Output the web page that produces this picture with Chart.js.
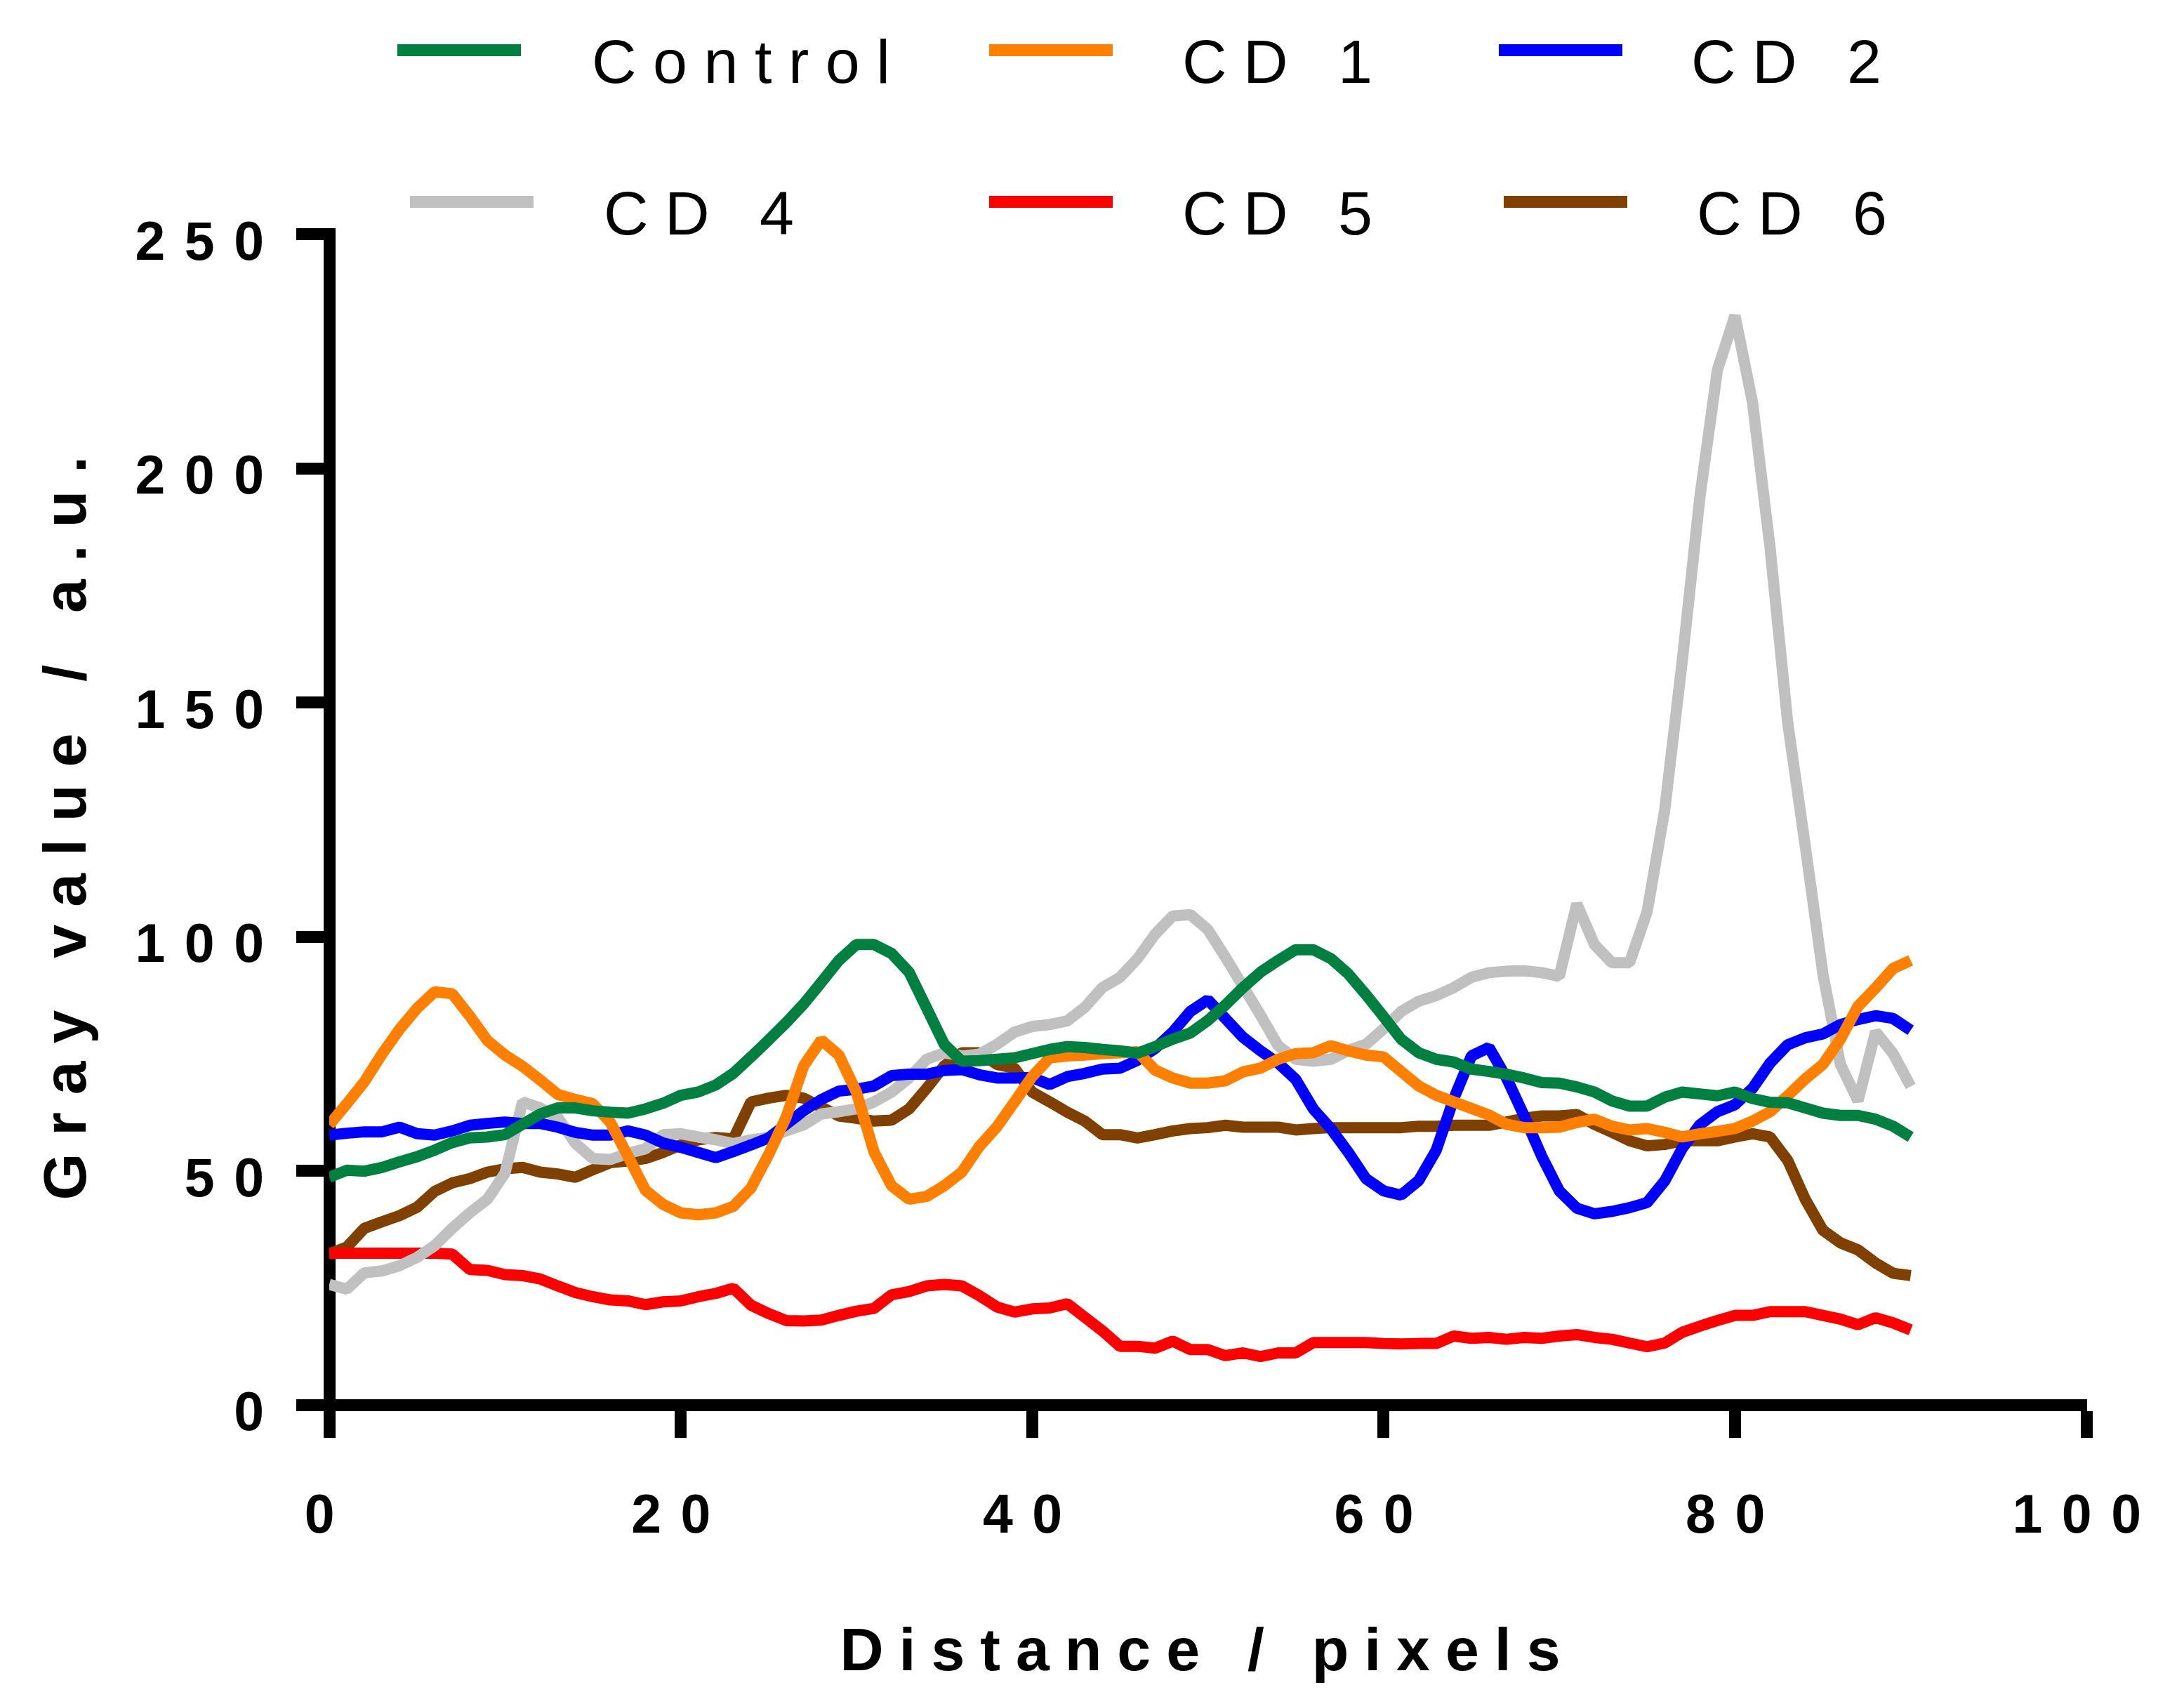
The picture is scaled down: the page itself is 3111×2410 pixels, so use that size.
<!DOCTYPE html>
<html><head><meta charset="utf-8">
<script src="https://cdn.jsdelivr.net/npm/chart.js@4.4.1/dist/chart.umd.min.js"></script>
<style>html,body{margin:0;padding:0;background:#fff}#wrap{width:3111px;height:2410px;position:relative}</style>
</head><body><div id="wrap"><canvas id="c"></canvas></div>
<script>
const distance = [0,1,2,3,4,5,6,7,8,9,10,11,12,13,14,15,16,17,18,19,20,21,22,23,24,25,26,27,28,29,30,31,32,33,34,35,36,37,38,39,40,41,42,43,44,45,46,47,48,49,50,51,52,53,54,55,56,57,58,59,60,61,62,63,64,65,66,67,68,69,70,71,72,73,74,75,76,77,78,79,80,81,82,83,84,85,86,87,88,89,90];
const control = [48.6,50.1,49.9,50.7,51.9,53.0,54.4,56.0,57.0,57.2,
 57.7,59.9,62.1,63.4,63.4,62.8,62.5,62.3,63.2,64.4,
 66.1,66.8,68.3,70.8,74.3,77.9,81.6,85.6,90.2,94.9,
 98.3,98.3,96.4,92.4,84.7,77.0,73.4,73.5,73.8,74.1,
 75.0,75.9,76.5,76.3,75.9,75.6,75.1,76.5,78.1,79.4,
 82.1,85.4,89.1,92.4,94.9,97.2,97.2,95.3,92.0,87.6,
 82.9,78.1,75.2,73.8,73.2,71.7,71.2,70.6,69.8,68.8,
 68.7,67.9,66.8,64.9,63.8,63.8,65.7,66.8,66.4,66.0,
 66.8,65.4,64.6,64.5,63.4,62.3,61.8,61.8,61.0,59.5,
 57.2];
const cd1 = [59.8,64.3,69.0,74.9,80.2,84.7,88.2,87.8,83.0,77.8,
 74.7,72.3,69.4,66.3,65.2,64.3,60.3,53.1,45.8,42.8,
 41.0,40.6,41.0,42.4,46.3,53.4,61.4,72.4,77.9,74.7,
 66.8,54.0,46.8,43.9,44.5,46.8,49.7,55.2,59.4,64.7,
 70.1,74.1,74.5,74.7,75.0,75.2,75.4,71.5,69.8,68.7,
 68.7,69.2,71.1,71.9,73.8,75.0,75.2,76.7,75.6,74.7,
 74.3,71.2,68.1,66.1,64.7,63.3,61.9,59.9,59.2,59.2,
 59.3,60.3,61.0,59.5,58.7,59.0,58.2,57.2,57.9,58.4,
 59.0,60.6,62.6,66.0,69.6,72.7,78.1,85.1,89.0,93.2,
 94.9];
const cd2 = [57.6,58.0,58.3,58.3,59.3,57.9,57.6,58.5,59.7,60.1,
 60.4,60.1,60.1,59.3,58.2,57.6,57.6,58.5,57.6,55.9,
 55.0,53.9,52.8,54.1,55.5,57.0,59.9,62.8,65.2,67.0,
 67.4,68.1,70.3,70.6,70.6,71.4,71.6,70.5,69.8,69.8,
 69.9,68.4,70.1,70.8,71.7,71.9,73.6,76.1,79.6,84.0,
 86.5,82.5,78.5,75.6,73.0,69.5,63.2,59.0,53.9,48.3,
 45.7,44.8,47.9,54.4,65.4,74.5,76.3,69.8,61.7,53.1,
 45.7,42.0,40.8,41.3,42.1,43.2,47.8,54.8,59.8,62.6,
 64.1,67.6,73.0,76.9,78.4,79.2,81.2,82.3,83.1,82.5,
 80.0];
const cd4 = [25.7,24.7,28.2,28.6,29.7,31.5,34.0,37.7,41.0,43.9,
 49.5,64.7,63.4,61.4,55.9,52.6,52.4,53.7,54.7,57.7,
 57.9,57.2,56.6,55.8,56.6,57.1,58.5,59.8,62.1,62.6,
 63.2,64.7,66.8,69.8,73.8,75.2,74.5,74.9,77.0,79.6,
 80.8,81.2,82.0,84.9,89.1,91.3,95.3,100.5,104.4,104.7,
 101.5,95.6,89.4,83.2,76.7,73.8,73.4,73.8,75.7,77.0,
 80.3,84.0,86.2,87.4,89.1,91.3,92.3,92.6,92.7,92.3,
 91.5,107.0,98.3,94.4,94.4,105.3,127.0,158.9,193.8,221.0,
 232.6,214.0,182.9,145.7,119.3,92.1,72.7,64.9,79.7,75.0,
 68.0];
const cd5 = [32.4,32.4,32.4,32.4,32.4,32.4,32.4,32.2,28.9,28.7,
 27.8,27.6,26.9,25.4,24.0,23.1,22.4,22.2,21.4,22.0,
 22.2,23.1,23.8,24.9,21.3,19.5,18.0,17.9,18.1,19.1,
 20.0,20.6,23.5,24.2,25.4,25.7,25.4,23.3,20.9,19.8,
 20.5,20.7,21.6,18.7,15.8,12.5,12.5,12.1,13.6,11.8,
 11.8,10.5,11.1,10.3,11.1,11.1,13.3,13.3,13.3,13.3,
 13.1,13.0,13.1,13.1,14.7,14.2,14.4,14.0,14.4,14.2,
 14.7,15.0,14.4,14.0,13.2,12.4,13.2,15.5,16.8,18.0,
 19.1,19.1,19.9,19.9,19.9,19.1,18.3,17.1,18.6,17.5,
 16.0];
const cd6 = [32.2,33.7,37.7,39.1,40.4,42.2,45.6,47.4,48.3,49.7,
 50.4,50.7,49.7,49.3,48.6,50.2,51.7,52.1,52.6,53.9,
 55.5,56.6,57.1,56.8,64.7,65.5,66.1,65.5,63.6,61.7,
 61.2,60.6,60.8,63.2,67.6,72.4,75.2,75.2,72.7,71.9,
 66.8,64.7,62.5,60.6,57.7,57.7,57.0,57.7,58.5,59.0,
 59.2,59.7,59.3,59.3,59.3,58.7,59.0,59.2,59.2,59.2,
 59.2,59.2,59.5,59.5,59.7,59.7,59.7,60.4,61.2,61.7,
 61.7,62.0,59.9,58.2,56.4,55.3,55.6,56.4,56.4,56.4,
 57.2,57.9,57.2,52.2,43.9,37.3,34.6,33.1,30.3,28.1,
 27.6];
const seriesNames = ['Control','CD 1','CD 2','CD 4','CD 5','CD 6'];
const xTickValues = [0,20,40,60,80,100];
const yTickValues = [0,50,100,150,200,250];
const xTitle = 'Distance / pixels';
const yTitle = 'Gray value / a.u.';

const seriesValues = [control, cd1, cd2, cd4, cd5, cd6];
const colors = ['#008040','#FF8000','#0000FF','#C0C0C0','#FF0000','#804000'];
const FONT = '"Liberation Sans", Arial, Helvetica, sans-serif';

// legend layout: [sampleX, sampleY, textX, baseline]
const legendPos = [
  [566, 71.5, 843, 118], [1409, 71.5, 1684, 118], [2135, 71.5, 2409, 118],
  [584, 287.5, 860, 333.5], [1409, 287.5, 1684, 333.5], [2142, 287.5, 2417, 333.5]
];
const titleSpacing = { x: '22px', y: '25px' };

const spacingPlugin = {
  id: 'spacing',
  afterUpdate(chart) {
    for (const id of ['x', 'y']) {
      const s = chart.scales[id];
      if (!s || s._spPatched) continue;
      const dl = s.drawLabels.bind(s), dt = s.drawTitle.bind(s);
      s.drawLabels = function(a) { const c = this.ctx; c.save(); c.letterSpacing = '27.5px'; dl(a); c.restore(); };
      s.drawTitle = function() { const c = this.ctx; c.save(); c.letterSpacing = titleSpacing[id]; dt(); c.restore(); };
      s._spPatched = true;
    }
  }
};

const legendPlugin = {
  id: 'customLegend',
  afterDraw(chart) {
    const ctx = chart.ctx;
    ctx.save();
    chart.data.datasets.forEach((ds, i) => {
      const p = legendPos[i];
      ctx.fillStyle = ds.borderColor;
      ctx.fillRect(p[0], p[1] - 8.5, 176, 17);
      ctx.fillStyle = '#000';
      ctx.font = '88px ' + FONT;
      ctx.letterSpacing = '23.5px';
      ctx.textBaseline = 'alphabetic';
      ctx.textAlign = 'left';
      ctx.fillText(ds.label, p[2], p[3]);
    });
    ctx.restore();
  }
};

const datasets = seriesValues.map((vals, i) => ({
  label: seriesNames[i],
  data: vals.map((v, j) => ({ x: distance[j], y: v })),
  borderColor: colors[i],
  backgroundColor: colors[i],
  borderWidth: 16,
  borderJoinStyle: 'bevel',
  pointRadius: 0,
  tension: 0,
  fill: false
}));

new Chart(document.getElementById('c'), {
  type: 'line',
  data: { datasets },
  plugins: [spacingPlugin, legendPlugin],
  options: {
    responsive: true,
    maintainAspectRatio: false,
    devicePixelRatio: 1,
    animation: false,
    layout: { padding: { left: 0, top: 333.5, right: 139, bottom: 0 } },
    plugins: { legend: { display: false }, tooltip: { enabled: false } },
    scales: {
      x: {
        type: 'linear', min: 0, max: 100,
        afterBuildTicks: s => { s.ticks = xTickValues.map(v => ({ value: v })); },
        afterFit: s => { s.height = 409; },
        grid: { display: true, drawOnChartArea: false, drawTicks: true, tickLength: 47, tickWidth: 17, tickColor: '#000', color: '#000' },
        border: { display: true, width: 17, color: '#000' },
        ticks: { autoSkip: false, maxRotation: 0, padding: 68, color: '#000', font: { family: FONT, size: 77, weight: 'bold' } },
        title: { display: true, text: xTitle, color: '#000', padding: { top: 0, bottom: 3 }, font: { family: FONT, size: 86, weight: 'bold' } }
      },
      y: {
        type: 'linear', min: 0, max: 250,
        afterBuildTicks: s => { s.ticks = yTickValues.map(v => ({ value: v })); },
        afterFit: s => { s.width = 469; },
        grid: { display: true, drawOnChartArea: false, drawTicks: true, tickLength: 47, tickWidth: 17, tickColor: '#000', color: '#000' },
        border: { display: true, width: 17, color: '#000' },
        ticks: { autoSkip: false, padding: 18.5, labelOffset: 15, color: '#000', font: { family: FONT, size: 77, weight: 'bold' } },
        title: { display: true, text: yTitle, color: '#000', padding: { top: 46.4, bottom: 0 }, font: { family: FONT, size: 86, weight: 'bold' } }
      }
    }
  }
});
</script>
</body></html>
